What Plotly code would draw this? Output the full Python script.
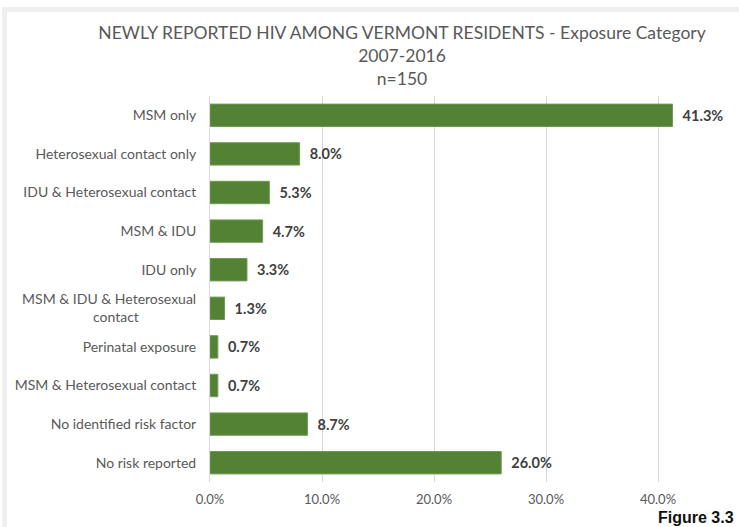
import plotly.graph_objects as go

categories = [
    "MSM only",
    "Heterosexual contact only",
    "IDU & Heterosexual contact",
    "MSM & IDU",
    "IDU only",
    "MSM & IDU & Heterosexual contact",
    "Perinatal exposure",
    "MSM & Heterosexual contact",
    "No identified risk factor",
    "No risk reported",
]
values = [0.413, 0.080, 0.053, 0.047, 0.033, 0.013, 0.007, 0.007, 0.087, 0.260]
y_ticklabels = [
    "MSM only",
    "Heterosexual contact only",
    "IDU & Heterosexual contact",
    "MSM & IDU",
    "IDU only",
    "MSM & IDU & Heterosexual<br>contact" + "\u00a0" * 16,
    "Perinatal exposure",
    "MSM & Heterosexual contact",
    "No identified risk factor",
    "No risk reported",
]
x_ticks = [0, 0.1, 0.2, 0.3, 0.4]
x_ticklabels = ["0.0%", "10.0%", "20.0%", "30.0%", "40.0%"]

W, H = 739, 527
L, R, T, B = 210, 25, 96, 45
pw = W - L - R
ph = H - T - B

def px(x):
    return (x - L) / pw

def py(y):
    return (H - B - y) / ph

FONT = "Lato, 'Open Sans', sans-serif"

fig = go.Figure(go.Bar(
    x=values,
    y=categories,
    orientation="h",
    marker=dict(color="#548235", line=dict(color="#6f9a52", width=1)),
    text=[f"\u00a0\u00a0{v*100:.1f}%" for v in values],
    textposition="outside",
    textfont=dict(family=FONT, size=14.5, color="#404040", weight="bold"),
    cliponaxis=False,
    width=0.58,
))

fig.update_layout(
    width=W, height=H,
    margin=dict(l=L, r=R, t=T, b=B),
    paper_bgcolor="white",
    plot_bgcolor="white",
    showlegend=False,
    font=dict(family=FONT, size=14, color="#595959"),
    title=dict(
        text="NEWLY REPORTED HIV AMONG VERMONT RESIDENTS - Exposure Category<br>2007-2016<br>n=150",
        xref="container", yref="container",
        x=402 / W, xanchor="center",
        y=1 - 39 / H, yanchor="top",
        font=dict(family=FONT, size=17.5, color="#595959"),
    ),
    xaxis=dict(
        range=[0, 0.45],
        tickvals=x_ticks,
        ticktext=x_ticklabels,
        showgrid=True,
        gridcolor="#d9d9d9",
        gridwidth=1,
        zeroline=False,
        showline=False,
        ticks="",
        ticklabelstandoff=8,
        tickfont=dict(family=FONT, size=13, color="#595959"),
    ),
    yaxis=dict(
        categoryorder="array",
        categoryarray=categories[::-1],
        tickvals=categories,
        ticktext=y_ticklabels,
        autorange=False,
        range=[-0.5, len(categories) - 0.5],
        showgrid=False,
        zeroline=False,
        showline=True,
        linecolor="#d9d9d9",
        linewidth=1,
        ticks="",
        ticklabelstandoff=10,
        tickfont=dict(family=FONT, size=14, color="#595959"),
    ),
    shapes=[
        dict(type="line", xref="paper", yref="paper",
             x0=px(4.5), x1=px(W + 5), y0=py(9.5), y1=py(9.5),
             line=dict(color="#efefef", width=5)),
        dict(type="line", xref="paper", yref="paper",
             x0=px(4.5), x1=px(4.5), y0=py(7), y1=py(H + 5),
             line=dict(color="#efefef", width=5)),
    ],
    annotations=[
        dict(text="Figure 3.3", xref="paper", yref="paper",
             x=px(736), y=py(517), xanchor="right", yanchor="middle",
             showarrow=False,
             font=dict(family="'Liberation Sans', Arial, sans-serif", size=16, color="#111111", weight="bold")),
    ],
)

fig.write_html("out.html")
